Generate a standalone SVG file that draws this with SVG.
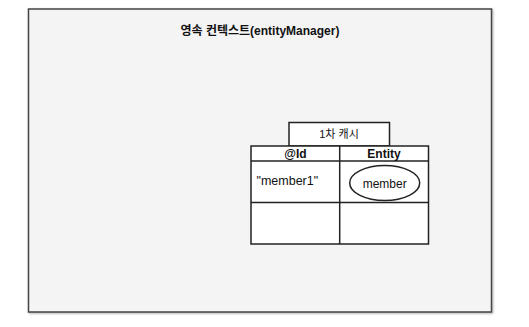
<svg xmlns="http://www.w3.org/2000/svg" width="529" height="327" viewBox="0 0 529 327">
<style>
.ln{stroke:#222;stroke-width:1.5;fill:#fff}
.t{font-family:"Liberation Sans","Noto Sans CJK KR",sans-serif;fill:#111;text-anchor:middle;dominant-baseline:central}
.b{font-weight:bold}
</style>
<defs>
<filter id="sh" x="-5%" y="-5%" width="110%" height="110%"><feDropShadow dx="1" dy="1" stdDeviation="1" flood-color="#000" flood-opacity="0.3"/></filter>
</defs>
<g id="context">
<rect x="28.5" y="9" width="463" height="303" fill="#f4f4f4" stroke="#444" stroke-width="1.5" filter="url(#sh)"/>
<text class="t b" x="260" y="30.5" font-size="12">영속 컨텍스트(entityManager)</text>
</g>
<g id="cache-label">
<rect class="ln" x="289" y="122.5" width="100.5" height="23.5"/>
<text class="t" x="339" y="134" font-size="11">1차 캐시</text>
</g>
<g id="cache-table">
<rect class="ln" x="251" y="146" width="177.5" height="98"/>
<line class="ln" x1="251" y1="161" x2="428.5" y2="161"/>
<line class="ln" x1="251" y1="202.5" x2="428.5" y2="202.5"/>
<line class="ln" x1="339.7" y1="146" x2="339.7" y2="244"/>
<text class="t b" x="295.5" y="153.7" font-size="12">@Id</text>
<text class="t b" x="384" y="153.7" font-size="12">Entity</text>
<text class="t" x="256.5" y="181" font-size="12.5" style="text-anchor:start">"member1"</text>
</g>
<g id="member">
<ellipse class="ln" cx="384.7" cy="183" rx="35" ry="17.5"/>
<text class="t" x="384.7" y="183.5" font-size="12">member</text>
</g>
</svg>
